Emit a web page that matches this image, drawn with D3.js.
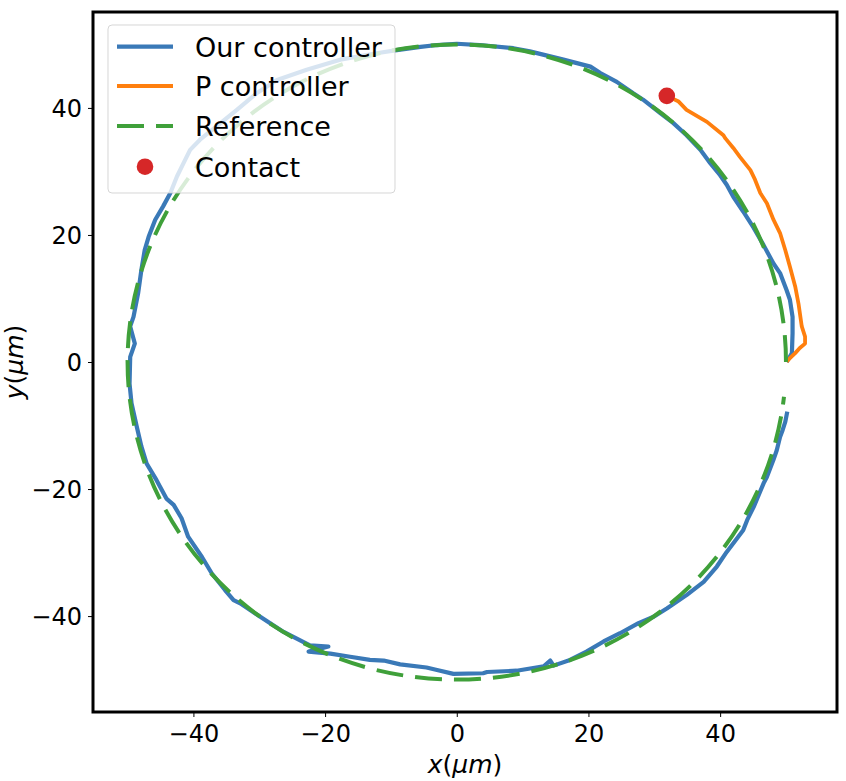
<!DOCTYPE html>
<html>
<head>
<meta charset="utf-8">
<script src="https://cdn.jsdelivr.net/npm/d3@7"></script>
<style>
  body { margin: 0; background: #fff; }
  text { font-family: "DejaVu Sans", sans-serif; }
</style>
</head>
<body>
<div id="chart"></div>
<script>
// trajectory of our controller (um)
var ourX = [50.1, 50.9, 51.0, 51.0, 50.6, 50.1, 49.1, 48.1, 46.6, 45.1, 43.5, 42.0, 41.0, 40.0, 38.5, 37.0, 34.9, 32.9, 30.9, 28.3,
    26.8, 24.3, 21.8, 20.3, 16.2, 11.1, 8.6, 3.5, 0.0, -3.0, -5.5, -9.1, -12.2, -17.7, -22.8, -27.3, -30.4, -33.4, -36.5, -39.0,
    -40.5, -41.5, -42.5, -43.5, -44.6, -45.8, -46.8, -47.4, -47.9, -48.4, -49.1, -49.6, -48.9, -49.6, -49.7, -49.4, -48.6, -47.9, -47.1, -45.6,
    -44.1, -43.0, -41.8, -40.8, -38.7, -37.2, -35.2, -33.9, -32.9, -30.6, -28.4, -26.3, -22.3, -19.5, -22.5, -19.2, -16.2, -13.2, -11.1, -8.6,
    -4.6, -3.0, -0.5, 4.0, 4.6, 9.1, 13.2, 14.2, 14.7, 17.2, 19.7, 22.3, 24.8, 27.6, 29.9, 31.9, 34.9, 37.5, 39.5, 41.0,
    43.5, 44.1, 45.1, 46.6, 47.1, 48.1, 48.6, 49.1, 49.5, 49.9, 50.2];
var ourY = [0.0, 1.4, 4.5, 7.1, 9.8, 11.3, 14.0, 15.5, 18.4, 21.1, 23.7, 26.0, 27.9, 29.4, 31.3, 33.4, 35.7, 37.6, 39.2, 41.3,
    42.3, 44.1, 45.5, 46.5, 47.6, 48.9, 49.4, 49.9, 50.1, 49.9, 49.6, 49.1, 48.6, 47.6, 46.0, 44.4, 42.3, 39.7, 37.1, 35.0,
    33.4, 31.3, 29.2, 26.6, 24.5, 22.4, 19.7, 17.6, 14.5, 10.8, 7.1, 5.6, 2.9, 0.8, -3.4, -6.5, -10.2, -13.3, -16.0, -18.6,
    -21.5, -22.5, -24.6, -27.5, -30.7, -33.3, -35.9, -37.5, -38.0, -39.6, -41.1, -42.5, -44.6, -44.8, -45.6, -45.9, -46.4, -46.9, -47.0, -47.6,
    -48.1, -48.5, -49.1, -49.0, -48.8, -48.6, -47.9, -47.0, -47.8, -46.9, -45.6, -44.0, -42.7, -41.1, -40.1, -38.8, -36.7, -34.6, -32.2, -29.9,
    -26.5, -24.9, -22.8, -19.1, -18.1, -15.4, -13.9, -11.8, -10.7, -9.4, -7.8];

// trajectory of the P controller
var pX = [31.9, 33.7, 34.9, 38.0, 40.5, 40.8, 42.0, 43.0, 44.6, 45.3, 46.1, 47.1, 48.1, 49.1, 49.9, 50.6, 51.4, 51.9, 52.4, 52.9,
    52.9, 52.1, 51.4, 50.6, 50.1];
var pY = [41.9, 41.0, 39.7, 37.8, 35.7, 35.2, 33.7, 32.3, 30.2, 28.7, 26.6, 25.0, 22.4, 20.3, 17.6, 15.0, 11.9, 9.2, 5.6, 4.0,
    2.9, 2.2, 1.4, 0.6, 0.05];

// reference circle: radius and the angle (deg) where it stops
var refRadius = 50;
var refStartDeg = 0;
var refEndDeg = 353.7;

// contact point
var contactX = [31.9];
var contactY = [41.9];

var xTicks = [-40, -20, 0, 20, 40];
var yTicks = [-40, -20, 0, 20, 40];

var seriesNames = ["Our controller", "P controller", "Reference", "Contact"];
var colors = ["#3a79b7", "#ff7f0e", "#3fa03a", "#d62728"];

// set the dimensions and margins of the graph
var W = 846, H = 781;
var margin = { top: 12, right: 9, bottom: 69, left: 93 },
    width = W - margin.left - margin.right,
    height = H - margin.top - margin.bottom;

var svg = d3.select("#chart")
    .append("svg")
    .attr("width", W)
    .attr("height", H)
    .append("g")
    .attr("transform", "translate(" + margin.left + "," + margin.top + ")");

var x = d3.scaleLinear().domain([-55.25, 57.75]).range([0, width]);
var y = d3.scaleLinear().domain([-55.1, 55.1]).range([height, 0]);

var plot = svg.append("g");
plot.append("clipPath").attr("id", "clip")
    .append("rect").attr("width", width).attr("height", height);
var lines = plot.append("g").attr("clip-path", "url(#clip)");

var line = d3.line()
    .x(function (d) { return x(d[0]); })
    .y(function (d) { return y(d[1]); });

// Our controller
lines.append("path")
    .datum(d3.zip(ourX, ourY))
    .attr("fill", "none")
    .attr("stroke", colors[0])
    .attr("stroke-width", 4.2)
    .attr("stroke-linejoin", "round")
    .attr("d", line);

// P controller
lines.append("path")
    .datum(d3.zip(pX, pY))
    .attr("fill", "none")
    .attr("stroke", colors[1])
    .attr("stroke-width", 3.8)
    .attr("stroke-linejoin", "round")
    .attr("d", line);

// Reference circle, as an elliptical arc in pixel space
var a0 = refStartDeg * Math.PI / 180, a1 = refEndDeg * Math.PI / 180;
var rx = x(refRadius) - x(0), ry = y(0) - y(refRadius);
var refPath = "M" + x(refRadius * Math.cos(a0)) + "," + y(refRadius * Math.sin(a0)) +
    "A" + rx + "," + ry + " 0 1 0 " + x(refRadius * Math.cos(a1)) + "," + y(refRadius * Math.sin(a1));
lines.append("path")
    .attr("d", refPath)
    .attr("fill", "none")
    .attr("stroke", colors[2])
    .attr("stroke-width", 4)
    .attr("stroke-dasharray", "27,12");

// Contact
lines.selectAll("circle.contact")
    .data(d3.zip(contactX, contactY))
    .enter().append("circle")
    .attr("class", "contact")
    .attr("cx", function (d) { return x(d[0]); })
    .attr("cy", function (d) { return y(d[1]); })
    .attr("r", 8.3)
    .attr("fill", colors[3]);

// axes
var xAxis = svg.append("g")
    .attr("transform", "translate(0," + height + ")")
    .call(d3.axisBottom(x).tickValues(xTicks).tickSize(5).tickPadding(8)
        .tickFormat(function (d) { return d < 0 ? "\u2212" + Math.abs(d) : d; }));
var yAxis = svg.append("g")
    .call(d3.axisLeft(y).tickValues(yTicks).tickSize(5).tickPadding(6)
        .tickFormat(function (d) { return d < 0 ? "\u2212" + Math.abs(d) : d; }));
[xAxis, yAxis].forEach(function (g) {
    g.select(".domain").remove();
    g.selectAll(".tick line").attr("stroke", "#000").attr("stroke-width", 1);
    g.selectAll(".tick text")
        .attr("fill", "#000")
        .style("font-family", "'DejaVu Sans', sans-serif")
        .style("font-size", "24px");
});
xAxis.selectAll(".tick text").attr("dy", "0.72em");
yAxis.selectAll(".tick text").attr("dy", "0.37em");

// frame
svg.append("rect")
    .attr("width", width)
    .attr("height", height)
    .attr("fill", "none")
    .attr("stroke", "#000")
    .attr("stroke-width", 3);

// axis labels
var xl = svg.append("text")
    .attr("x", width / 2)
    .attr("y", 773 - margin.top)
    .attr("text-anchor", "middle")
    .style("font-size", "25px");
xl.append("tspan").style("font-style", "italic").text("x");
xl.append("tspan").text("(");
xl.append("tspan").style("font-style", "italic").text("\u03bcm");
xl.append("tspan").text(")");

var yl = svg.append("text")
    .attr("transform", "translate(" + (23 - margin.left) + "," + (height / 2) + ") rotate(-90)")
    .attr("text-anchor", "middle")
    .style("font-size", "25px");
yl.append("tspan").style("font-style", "italic").text("y");
yl.append("tspan").text("(");
yl.append("tspan").style("font-style", "italic").text("\u03bcm");
yl.append("tspan").text(")");

// legend
var legend = svg.append("g").attr("transform", "translate(" + (108 - margin.left) + "," + (25 - margin.top) + ")");
legend.append("rect")
    .attr("width", 287)
    .attr("height", 168)
    .attr("rx", 4)
    .attr("fill", "#fff")
    .attr("fill-opacity", 0.8)
    .attr("stroke", "#ccc")
    .attr("stroke-opacity", 0.8)
    .attr("stroke-width", 1);

var rowY = [21.7, 61, 101, 141.7];
seriesNames.forEach(function (name, i) {
    var g = legend.append("g").attr("transform", "translate(0," + rowY[i] + ")");
    if (i < 3) {
        var l = g.append("line")
            .attr("x1", 9).attr("x2", 65)
            .attr("y1", 0).attr("y2", 0)
            .attr("stroke", colors[i])
            .attr("stroke-width", i === 1 ? 3.8 : 4.2);
        if (i === 2) l.attr("stroke-dasharray", "27,12");
    } else {
        g.append("circle").attr("cx", 37).attr("cy", 0).attr("r", 8.3).attr("fill", colors[i]);
    }
    g.append("text")
        .attr("x", 87)
        .attr("y", 10)
        .style("font-size", "27px")
        .text(name);
});
</script>
</body>
</html>
